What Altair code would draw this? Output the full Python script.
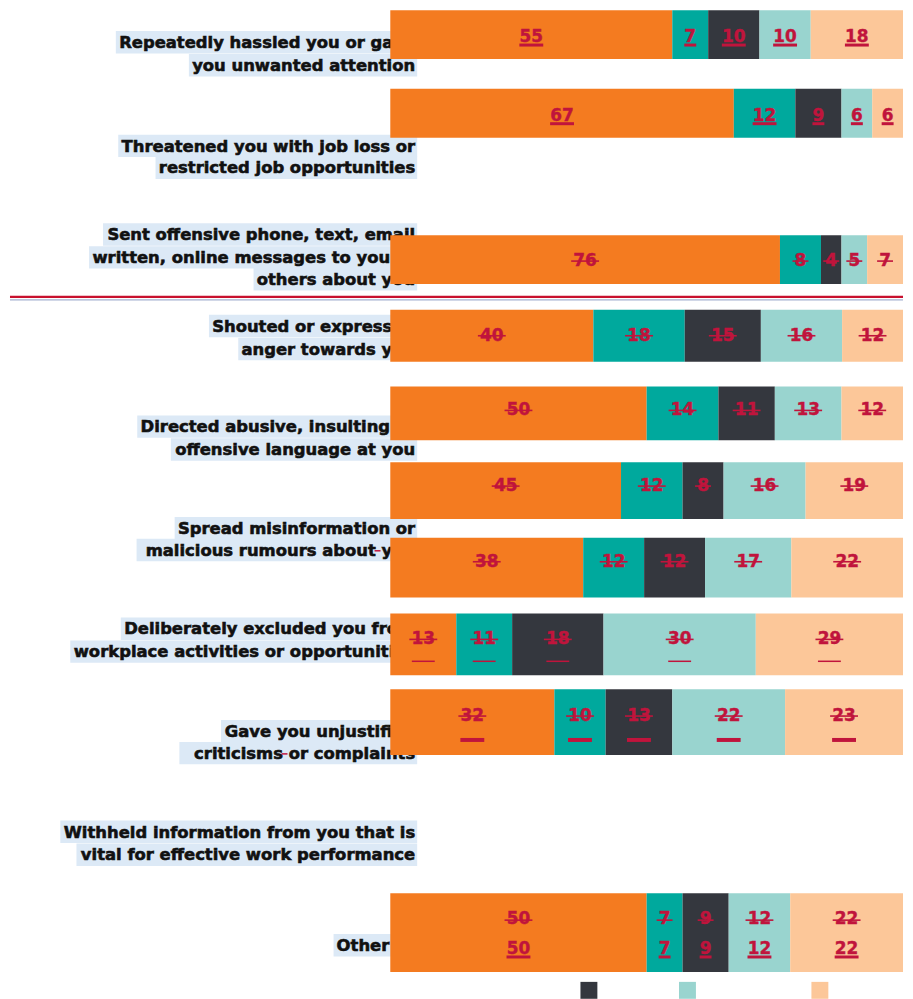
import altair as alt
import pandas as pd

# ---------------- data ----------------
SERIES = ["Series 1", "Series 2", "Series 3", "Series 4", "Series 5"]
COLORS = ["#F47B20", "#00A99D", "#34373E", "#99D4CF", "#FCC799"]

BARS = ["Bar %d" % (i + 1) for i in range(10)]
VALUES = [
    [55, 7, 10, 10, 18],
    [67, 12, 9, 6, 6],
    [76, 8, 4, 5, 7],
    [40, 18, 15, 16, 12],
    [50, 14, 11, 13, 12],
    [45, 12, 8, 16, 19],
    [38, 12, 12, 17, 22],
    [13, 11, 18, 30, 29],
    [32, 10, 13, 22, 23],
    [50, 7, 9, 12, 22],
]

LABEL_LINES = [
    ["Repeatedly hassled you or gave", "you unwanted attention"],
    ["Threatened you with job loss or", "restricted job opportunities"],
    ["Sent offensive phone, text, email", "written, online messages to you or", "others about you"],
    ["Shouted or expressed", "anger towards you"],
    ["Directed abusive, insulting or", "offensive language at you"],
    ["Spread misinformation or", "malicious rumours about  you"],
    ["Deliberately excluded you from", "workplace activities or opportunities"],
    ["Gave you unjustified", "criticisms   or complaints"],
    ["Withheld information from you that is", "vital for effective work performance"],
    ["Other"],
]
# deleted-text dash marks (track changes) placed before these words
DASH_BEFORE = [("malicious rumours about  you", "you"), ("criticisms   or complaints", "or complaints")]

LEGEND_SWATCHES = ["Series 3", "Series 4", "Series 5"]

# ---------------- layout (page pixels) ----------------
MARGIN = 8
PLOT_W, PLOT_H = 897, 983
BAR_LEFT, BAR_RIGHT = 390, 905
BAR_TOPS = [6, 85, 232, 307, 384, 460, 536, 612, 688, 893]
BAR_BOTTOMS = [55, 134, 281, 359, 438, 517, 596, 674, 754, 972]
VALUE_Y = [32, 111, 257, 332, 407, 483, 559, 637, 714, 918]
VALUE_Y2 = [None] * 9 + [948]
STRIKE = [False, False, True, True, True, True, True, True, True, True]
UNDER_Y = [41, 120, None, None, None, None, None, 660, 739, 957]
UNDER_W = [None, None, None, None, None, None, None, 23, 24, None]
UNDER_T = [3, 3, 0, 0, 0, 0, 0, 1.5, 4, 3]
LABEL_Y = [[38, 61], [142, 164], [231, 254, 276], [323, 346], [424, 447],
           [526, 548], [627, 650], [730, 752], [831, 854], [945]]
LABEL_RIGHT = [415] * 9 + [389]
LEGEND_X = [581, 680, 813]
LEGEND_Y = (982, 999)
SEP_LINES = [(294, "#c8102e", 2.4), (297, "#8e9cc4", 1)]

LABEL_FONT = "DejaVu Sans"
LABEL_SIZE = 16.5
VALUE_SIZE = 17
LABEL_COLOR = "#111111"
VALUE_COLOR = "#c0143c"
HIGHLIGHT = "#dce9f6"

PX = 100.0 / (BAR_RIGHT - BAR_LEFT)  # percent units per pixel


def px(page_x):
    return (page_x - BAR_LEFT) * PX


def py(page_y):
    return page_y - MARGIN


XDOM = [px(MARGIN), px(MARGIN + PLOT_W)]
XS = alt.Scale(domain=XDOM, nice=False, zero=False)
YS = alt.Scale(domain=[0, PLOT_H], reverse=True, nice=False, zero=False)


def X(f):
    return alt.X(f, type="quantitative", scale=XS, axis=None)


def X2(f):
    return alt.X2(f)


def Y(f):
    return alt.Y(f, type="quantitative", scale=YS, axis=None)


# approximate DejaVu Sans Bold advance widths (em)
W = {' ': .348, 'a': .675, 'b': .716, 'c': .593, 'd': .716, 'e': .678, 'f': .435, 'g': .716,
     'h': .712, 'i': .343, 'j': .343, 'k': .665, 'l': .343, 'm': 1.042, 'n': .712, 'o': .687,
     'p': .716, 'q': .716, 'r': .493, 's': .595, 't': .478, 'u': .712, 'v': .652, 'w': .924,
     'x': .645, 'y': .652, 'z': .582, ',': .380, '.': .380, 'R': .770, 'T': .682, 'S': .720,
     'D': .830, 'G': .821, 'W': 1.103, 'O': .850}


def text_w(s):
    return sum(W.get(c, .68) for c in s) * LABEL_SIZE


# ---------------- tables ----------------
rows = []
for b, (name, vals) in enumerate(zip(BARS, VALUES)):
    for o, (s, v) in enumerate(zip(SERIES, vals)):
        rows.append(dict(
            bar=name, series=s, order=o, value=v,
            top=py(BAR_TOPS[b]), bottom=py(BAR_BOTTOMS[b]),
            vb=py(VALUE_Y[b]) + 6,
            vb2=(py(VALUE_Y2[b]) + 6) if VALUE_Y2[b] else None,
            strike_y=(py(VALUE_Y[b]) + (2 if VALUE_Y2[b] else 1)) if STRIKE[b] else None,
            under_y=py(UNDER_Y[b]) if UNDER_Y[b] else None,
            under_w=UNDER_W[b],
            under_t=UNDER_T[b],
        ))
bars_df = pd.DataFrame(rows)

lab_rows, dash_rows = [], []
dash_map = dict(DASH_BEFORE)
for lines, ys, right in zip(LABEL_LINES, LABEL_Y, LABEL_RIGHT):
    for t, y in zip(lines, ys):
        w = text_w(t)
        lab_rows.append(dict(text=t, x=px(right), xl=px(right - w - 3), xr=px(right + 2),
                             yb=py(y) + 6, yt=py(y) - 11, ybot=py(y) + 11.5))
        if t in dash_map:
            end = right - text_w(dash_map[t]) - 1
            dash_rows.append(dict(x0=px(end - 6), x1=px(end), y=py(y) + 1))
lab_df = pd.DataFrame(lab_rows)
dash_df = pd.DataFrame(dash_rows)

sep_df = pd.DataFrame([dict(y=py(y), color=c, sw=w, x0=XDOM[0], x1=XDOM[1])
                       for y, c, w in SEP_LINES])

leg_df = pd.DataFrame([dict(series=s, x0=px(x), x1=px(x + 17), y0=py(LEGEND_Y[0]), y1=py(LEGEND_Y[1]))
                       for s, x in zip(LEGEND_SWATCHES, LEGEND_X)])

color = alt.Color("series:N", scale=alt.Scale(domain=SERIES, range=COLORS), legend=None)

# ---------------- layers ----------------
highlight = alt.Chart(lab_df).mark_rect(color=HIGHLIGHT).encode(
    x=X("xl"), x2=X2("xr"), y=Y("yt"), y2=alt.Y2("ybot"))

labels = alt.Chart(lab_df).mark_text(
    font=LABEL_FONT, fontSize=LABEL_SIZE, fontWeight="bold", color=LABEL_COLOR,
    stroke=LABEL_COLOR, strokeWidth=0.6,
    align="right", baseline="alphabetic").encode(x=X("x"), y=Y("yb"), text="text:N")

dashes = alt.Chart(dash_df).mark_rule(color=VALUE_COLOR, strokeWidth=1.5).encode(
    x=X("x0"), x2=X2("x1"), y=Y("y"))

base = (alt.Chart(bars_df)
        .transform_joinaggregate(total="sum(value)", groupby=["bar"])
        .transform_window(cum="sum(value)", sort=[alt.SortField("order")],
                          groupby=["bar"], frame=[None, 0])
        .transform_calculate(start="(datum.cum - datum.value) / datum.total * 100")
        .transform_calculate(end="datum.cum / datum.total * 100")
        .transform_calculate(mid="(datum.start + datum.end) / 2")
        .transform_calculate(label="toString(datum.value)")
        .transform_calculate(tw="length(datum.label) * 12.0 * %f" % PX))

bars = base.mark_rect().encode(x=X("start"), x2=X2("end"), y=Y("top"), y2=alt.Y2("bottom"),
                                color=color)

vtext = base.mark_text(font=LABEL_FONT, fontSize=VALUE_SIZE, fontWeight="bold",
                       color=VALUE_COLOR, stroke=VALUE_COLOR, strokeWidth=0.4,
                       baseline="alphabetic").encode(
    x=X("mid"), y=Y("vb"), text="label:N")

vtext2 = base.transform_filter("isValid(datum.vb2)").mark_text(
    font=LABEL_FONT, fontSize=VALUE_SIZE, fontWeight="bold",
    color=VALUE_COLOR, stroke=VALUE_COLOR, strokeWidth=0.4,
    baseline="alphabetic").encode(x=X("mid"), y=Y("vb2"), text="label:N")

strikes = (base.transform_filter("isValid(datum.strike_y)")
           .transform_calculate(s0="datum.mid - datum.tw / 2 - 2 * %f" % PX)
           .transform_calculate(s1="datum.mid + datum.tw / 2 + 2 * %f" % PX)
           .mark_rule(color=VALUE_COLOR, strokeWidth=1.6)
           .encode(x=X("s0"), x2=X2("s1"), y=Y("strike_y")))

unders = (base.transform_filter("isValid(datum.under_y)")
          .transform_calculate(uw="isValid(datum.under_w) ? datum.under_w * %f : datum.tw" % PX)
          .transform_calculate(u0="datum.mid - datum.uw / 2")
          .transform_calculate(u1="datum.mid + datum.uw / 2")
          .mark_rule(color=VALUE_COLOR)
          .encode(x=X("u0"), x2=X2("u1"), y=Y("under_y"),
                  strokeWidth=alt.StrokeWidth("under_t:Q", scale=None)))

seps = alt.Chart(sep_df).mark_rule().encode(
    x=X("x0"), x2=X2("x1"), y=Y("y"),
    color=alt.Color("color:N", scale=None),
    strokeWidth=alt.StrokeWidth("sw:Q", scale=None))

legend = alt.Chart(leg_df).mark_rect().encode(
    x=X("x0"), x2=X2("x1"), y=Y("y0"), y2=alt.Y2("y1"), color=color)

chart = (alt.layer(highlight, labels, dashes, bars, vtext, vtext2, strikes, unders, seps, legend)
         .properties(width=PLOT_W, height=PLOT_H, padding=0, background="white")
         .configure_view(stroke=None, strokeWidth=0))

chart.save("out.html", embed_options={"renderer": "svg", "actions": False})
